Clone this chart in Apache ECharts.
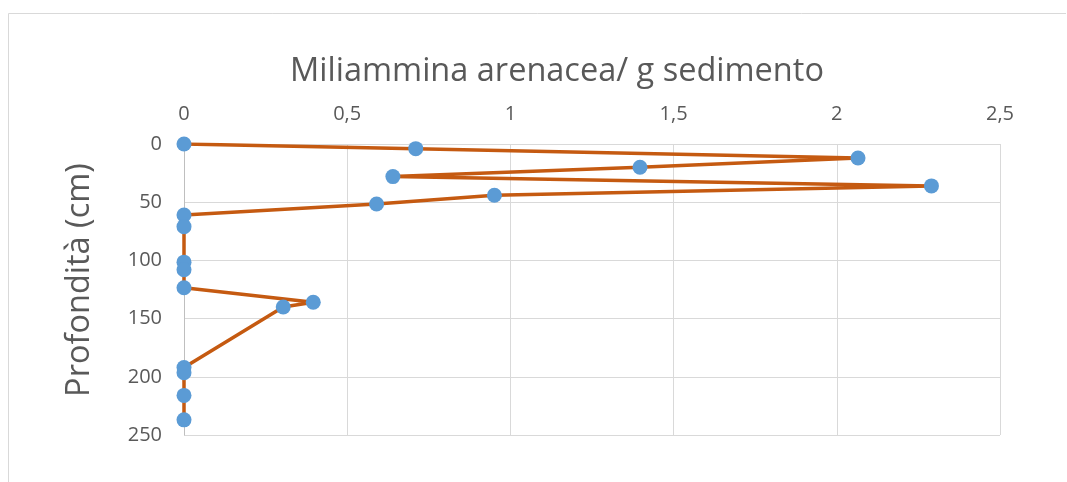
<!DOCTYPE html>
<html>
<head>
<meta charset="utf-8">
<script src="https://cdn.jsdelivr.net/npm/echarts@6/dist/echarts.min.js"></script>
<style>html,body{margin:0;padding:0;background:#fff;}#c{width:1067px;height:482px;}</style>
</head>
<body>
<div id="c"></div>
<script>
const titleText = 'Miliammina arenacea/ g sedimento';
const yAxisTitle = 'Profondità (cm)';
const abundance = [0, 0.71, 2.065, 1.397, 0.64, 2.29, 0.951, 0.59, 0, 0, 0, 0, 0, 0.396, 0.304, 0, 0, 0, 0];
const depth = [0, 4, 12, 20, 28, 36, 44, 51.5, 61, 71, 101.5, 108, 123.5, 136, 140, 192, 196.5, 216, 237];
const xTicks = [0, 0.5, 1, 1.5, 2, 2.5];
const yTicks = [0, 50, 100, 150, 200, 250];

const points = abundance.map((v, i) => [v, depth[i]]);
const chart = echarts.init(document.getElementById('c'), null, {renderer: 'canvas'});
const font = "'Open Sans', 'Noto Sans', sans-serif";
chart.setOption({
  animation: false,
  backgroundColor: '#fff',
  grid: {left: 184, right: 67, top: 144, bottom: 47},
  graphic: [
    {type: 'polyline', shape: {points: [[8.5, 490], [8.5, 13.5], [1066, 13.5]]}, style: {stroke: '#d9d9d9', lineWidth: 1, fill: null}},
    {type: 'text', x: 557, y: 72, style: {text: titleText, textAlign: 'center', textVerticalAlign: 'middle', fontSize: 32.5, fontFamily: font, fill: '#595959'}},
    {type: 'text', rotation: Math.PI / 2, x: 80, y: 280, style: {text: yAxisTitle, textAlign: 'center', textVerticalAlign: 'middle', fontSize: 32.5, fontFamily: font, fill: '#595959'}}
  ],
  xAxis: {
    type: 'value', position: 'top', min: xTicks[0], max: xTicks[xTicks.length - 1], interval: 0.5,
    axisLine: {show: false}, axisTick: {show: false},
    splitLine: {show: true, lineStyle: {color: '#d9d9d9', width: 1}},
    axisLabel: {fontSize: 20, fontFamily: font, color: '#595959', margin: 20,
      formatter: v => String(v).replace('.', ',')}
  },
  yAxis: {
    type: 'value', inverse: true, min: yTicks[0], max: yTicks[yTicks.length - 1], interval: 50,
    axisLine: {show: true, lineStyle: {color: '#bfbfbf', width: 1}}, axisTick: {show: false},
    splitLine: {show: true, lineStyle: {color: '#d9d9d9', width: 1}},
    axisLabel: {fontSize: 20, fontFamily: font, color: '#595959', margin: 22}
  },
  series: [{
    type: 'line', data: points, symbol: 'circle', symbolSize: 15,
    lineStyle: {color: '#C55A11', width: 3.5},
    itemStyle: {color: '#5B9BD5', borderWidth: 0}
  }]
});
</script>
</body>
</html>
